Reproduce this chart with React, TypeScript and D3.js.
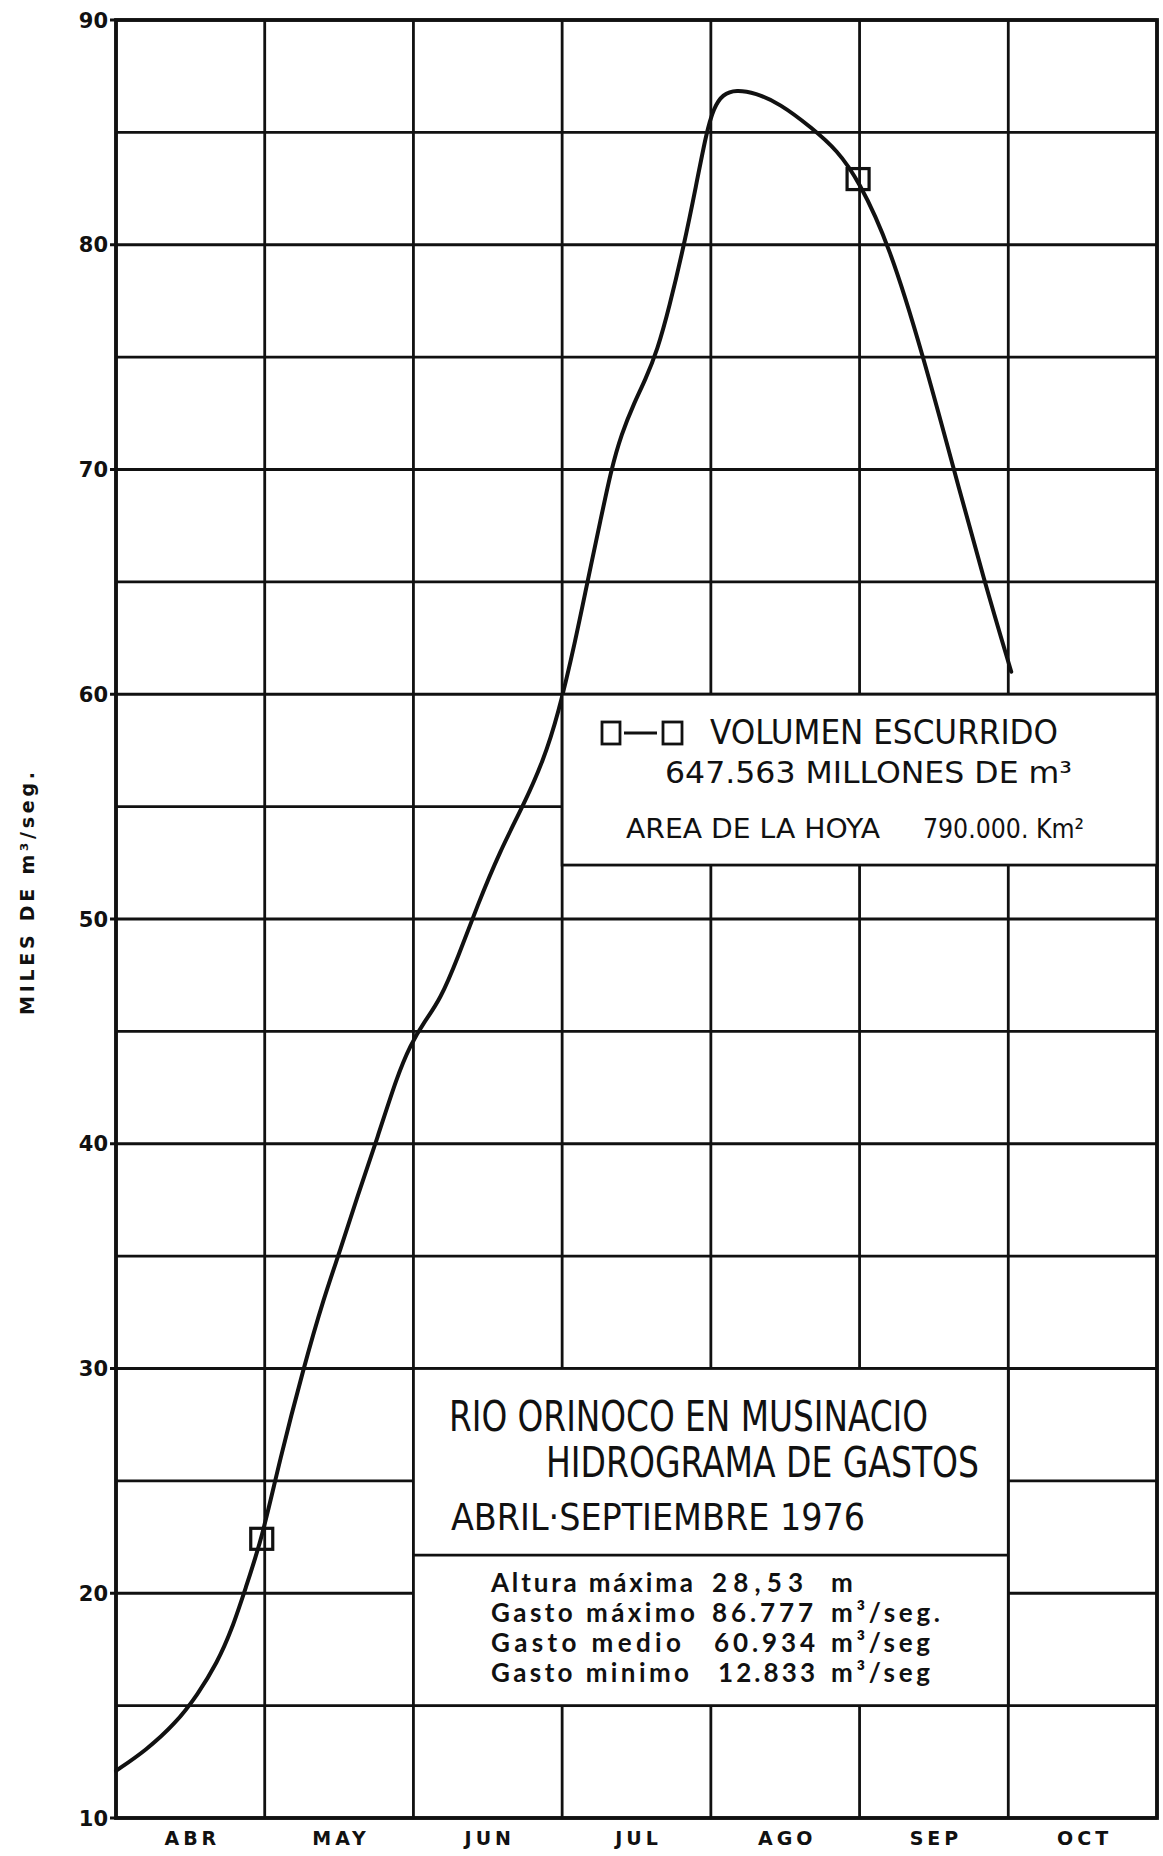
import React from "react";
import * as d3 from "d3";

// ---- data ----
const monthLabels = ["ABR", "MAY", "JUN", "JUL", "AGO", "SEP", "OCT"];
const yTickLabels = [10, 20, 30, 40, 50, 60, 70, 80, 90];
const gridValues = [10, 15, 20, 25, 30, 35, 40, 45, 50, 55, 60, 65, 70, 75, 80, 85, 90];
const monthBoundaries = [0, 1, 2, 3, 4, 5, 6, 7];

// hydrograph, x in months since 1 April, y in thousands of m3/s
const flowMonths = [
  0.0, 0.2, 0.4, 0.55, 0.68, 0.78, 0.87, 0.98, 1.1, 1.26, 1.4, 1.51, 1.62, 1.76, 1.89, 1.98,
  2.07, 2.18, 2.3, 2.43, 2.58, 2.75, 2.87, 2.97, 3.09, 3.17, 3.26, 3.33, 3.4, 3.48, 3.56, 3.64,
  3.72, 3.82, 3.9, 3.97, 4.02, 4.08, 4.17, 4.3, 4.46, 4.68, 4.85, 4.99, 5.2, 5.43, 5.63, 5.84,
  6.02,
];
const flowValues = [
  12.1, 13.0, 14.2, 15.5, 16.9, 18.4, 20.2, 22.4, 25.9, 30.0, 33.2, 35.3, 37.6, 40.3, 43.0, 44.4,
  45.4, 46.4, 48.3, 50.6, 53.0, 55.2, 57.0, 59.0, 62.4, 65.0, 67.8, 70.0, 71.6, 72.9, 74.0, 75.3,
  77.2, 80.0, 82.6, 85.0, 86.1, 86.7, 86.9, 86.75, 86.3, 85.2, 84.2, 82.9, 80.0, 75.0, 70.1, 65.0,
  61.0,
];
const markerMonths = [0.98, 4.99];
const markerValues = [22.4, 82.9];

const statLabels = ["Altura máxima", "Gasto máximo", "Gasto medio", "Gasto minimo"];
const statNumbers = ["28,53", "86.777", "60.934", "12.833"];
const statUnits = ["m", "m³/seg.", "m³/seg", "m³/seg"];

// ---- layout ----
const W = 1163;
const H = 1856;
const LEFT = 116;
const RIGHT = 1157;
const TOP = 20;
const BOTTOM = 1818;

const COND = "'DejaVu Sans Condensed', 'DejaVu Sans', sans-serif";
const BOLD = "'DejaVu Sans', sans-serif";
const STAT = "Lato, 'DejaVu Sans', sans-serif";

export default function App() {
  const x = d3.scaleLinear().domain([0, 7]).range([LEFT, RIGHT]);
  const y = d3.scaleLinear().domain([10, 90]).range([BOTTOM, TOP]);

  const line = d3
    .line<number>()
    .x((d, i) => x(flowMonths[i]))
    .y((d) => y(d))
    .curve(d3.curveBasis);
  const path = line(flowValues) || "";

  // boxes (in data units)
  const box1 = { x0: x(3), x1: x(7), y0: y(60), y1: y(52.4) };
  const box2 = { x0: x(2), x1: x(6), y0: y(30), y1: y(15), ymid: y(21.7) };

  const statBase = [1592, 1622, 1652, 1682];
  const statNumX = [712, 712, 714, 718];
  const statLabW = [202, 204, 190, 198];
  const statNumW = [91, 101, 101, 97];
  const statUnitW = [22, 109, 99, 99];

  return (
    <svg
      width={W}
      height={H}
      style={{ position: "absolute", left: 0, top: 0, background: "#fff" }}
    >
      <rect x={0} y={0} width={W} height={H} fill="#fff" />
      {/* grid */}
      <g stroke="#111" strokeWidth={2.8}>
        {gridValues.map((v) => (
          <line
            key={"h" + v}
            x1={yTickLabels.includes(v) ? LEFT - 6 : LEFT}
            x2={RIGHT}
            y1={y(v)}
            y2={y(v)}
          />
        ))}
        {monthBoundaries.map((m) => (
          <line key={"v" + m} x1={x(m)} x2={x(m)} y1={TOP} y2={BOTTOM} />
        ))}
      </g>
      <rect
        x={LEFT}
        y={TOP}
        width={RIGHT - LEFT}
        height={BOTTOM - TOP}
        fill="none"
        stroke="#111"
        strokeWidth={3.8}
      />

      {/* curve */}
      <path d={path} fill="none" stroke="#111" strokeWidth={4} strokeLinecap="round" />
      {markerMonths.map((m, i) => (
        <rect
          key={"mk" + i}
          x={x(m) - 11}
          y={y(markerValues[i]) - 11}
          width={22}
          height={21}
          fill="none"
          stroke="#111"
          strokeWidth={3.2}
        />
      ))}

      {/* y tick labels */}
      {yTickLabels.map((v) => (
        <text
          key={"yl" + v}
          x={108}
          y={y(v)}
          dy="0.36em"
          textAnchor="end"
          fontFamily={BOLD}
          fontWeight="bold"
          fontSize={21}
          fill="#111"
        >
          {v}
        </text>
      ))}
      {/* y axis title */}
      <text
        transform={`translate(34, 1015) rotate(-90)`}
        fontFamily={BOLD}
        fontWeight="bold"
        fontSize={19}
        fill="#111"
        textLength={243}
        lengthAdjust="spacing"
      >
        MILES DE m³/seg.
      </text>

      {/* x labels */}
      {monthLabels.map((l, i) => (
        <text
          key={l}
          x={(x(i) + x(i + 1)) / 2 + 2}
          y={1845}
          textAnchor="middle"
          fontFamily={BOLD}
          fontWeight="bold"
          fontSize={19}
          letterSpacing={4}
          fill="#111"
        >
          {l}
        </text>
      ))}

      {/* box 1: volumen */}
      <rect
        x={box1.x0}
        y={box1.y0}
        width={box1.x1 - box1.x0}
        height={box1.y1 - box1.y0}
        fill="#fff"
        stroke="#111"
        strokeWidth={2.8}
      />
      <g stroke="#111" strokeWidth={2.8} fill="none">
        <rect x={602} y={722} width={18} height={22} />
        <line x1={624} x2={657} y1={733} y2={733} />
        <rect x={663} y={722} width={19} height={22} />
      </g>
      <g fontFamily={COND} fill="#111">
        <text x={710} y={744} fontSize={33} textLength={348} lengthAdjust="spacingAndGlyphs">
          VOLUMEN ESCURRIDO
        </text>
        <text x={665} y={783} fontSize={30} textLength={407} lengthAdjust="spacingAndGlyphs">
          647.563 MILLONES DE m³
        </text>
        <text x={626} y={838} fontSize={27} textLength={254} lengthAdjust="spacingAndGlyphs">
          AREA DE LA HOYA
        </text>
        <text x={923} y={838} fontSize={27} textLength={161} lengthAdjust="spacingAndGlyphs">
          790.000. Km²
        </text>
      </g>

      {/* box 2: title */}
      <rect
        x={box2.x0}
        y={box2.y0}
        width={box2.x1 - box2.x0}
        height={box2.y1 - box2.y0}
        fill="#fff"
        stroke="#111"
        strokeWidth={2.8}
      />
      <line x1={box2.x0} x2={box2.x1} y1={box2.ymid} y2={box2.ymid} stroke="#111" strokeWidth={2.8} />
      <g fontFamily={COND} fill="#111">
        <text x={449} y={1431} fontSize={42} textLength={479} lengthAdjust="spacingAndGlyphs">
          RIO ORINOCO EN MUSINACIO
        </text>
        <text x={546} y={1477} fontSize={43} textLength={433} lengthAdjust="spacingAndGlyphs">
          HIDROGRAMA DE GASTOS
        </text>
        <text x={451} y={1530} fontSize={38} textLength={414} lengthAdjust="spacingAndGlyphs">
          ABRIL·SEPTIEMBRE 1976
        </text>
      </g>
      <g fontFamily={STAT} fontWeight="bold" fontSize={26} fill="#111">
        {statLabels.map((s, i) => (
          <g key={s}>
            <text x={491} y={statBase[i]} textLength={statLabW[i]} lengthAdjust="spacing">
              {s}
            </text>
            <text x={statNumX[i]} y={statBase[i]} textLength={statNumW[i]} lengthAdjust="spacing">
              {statNumbers[i]}
            </text>
            <text x={831} y={statBase[i]} textLength={statUnitW[i]} lengthAdjust="spacing">
              {statUnits[i]}
            </text>
          </g>
        ))}
      </g>
    </svg>
  );
}
